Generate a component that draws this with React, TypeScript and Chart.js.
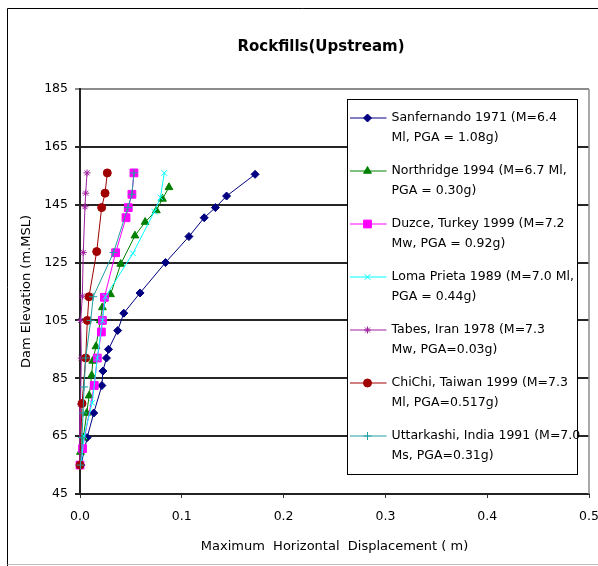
import React, { useEffect, useRef } from 'react';
import { Chart, registerables } from 'chart.js';
import { drawPoint } from 'chart.js/helpers';

Chart.register(...registerables);

const FONT = "'DejaVu Sans', sans-serif";

const chartTitle = 'Rockfills(Upstream)';
const xAxisTitle = 'Maximum  Horizontal  Displacement ( m)';
const yAxisTitle = 'Dam Elevation (m.MSL)';
const xTicks = [0, 0.1, 0.2, 0.3, 0.4, 0.5];
const yTicks = [45, 65, 85, 105, 125, 145, 165, 185];

const legendLines = [
  ['Sanfernando 1971 (M=6.4', 'Ml, PGA = 1.08g)'],
  ['Northridge 1994 (M=6.7 Ml,', 'PGA = 0.30g)'],
  ['Duzce, Turkey 1999 (M=7.2', 'Mw, PGA = 0.92g)'],
  ['Loma Prieta 1989 (M=7.0 Ml,', 'PGA = 0.44g)'],
  ['Tabes, Iran 1978 (M=7.3', 'Mw, PGA=0.03g)'],
  ['ChiChi, Taiwan 1999 (M=7.3', 'Ml, PGA=0.517g)'],
  ['Uttarkashi, India 1991 (M=7.0', 'Ms, PGA=0.31g)'],
];

// Sanfernando 1971
const sanfernandoElev = [155.5, 148, 144, 140.5, 134, 125, 114.5, 107.5, 101.5, 95, 92, 87.5, 82.5, 73, 64.5, 55];
const sanfernandoDisp = [0.172, 0.144, 0.133, 0.122, 0.107, 0.084, 0.059, 0.043, 0.037, 0.028, 0.026, 0.0225, 0.0215, 0.0135, 0.007, 0.001];
// Northridge 1994
const northridgeElev = [151, 147, 143, 139, 134.3, 124.5, 114, 109.5, 105, 96, 91, 86, 79, 73, 64.5, 59.5];
const northridgeDisp = [0.0874, 0.081, 0.075, 0.064, 0.054, 0.04, 0.03, 0.022, 0.02, 0.0157, 0.0125, 0.0115, 0.009, 0.0066, 0.0033, 0.0005];
// Duzce, Turkey 1999
const duzceElev = [156, 148.6, 144, 140.5, 128.4, 113, 105, 101, 92, 82.5, 60.7, 55];
const duzceDisp = [0.053, 0.051, 0.0474, 0.0452, 0.035, 0.024, 0.022, 0.021, 0.017, 0.014, 0.0025, 0.0];
// Loma Prieta 1989
const lomaElev = [156, 147.5, 142.6, 128.2, 113.2, 105, 92, 76.5, 65, 55];
const lomaDisp = [0.0828, 0.079, 0.073, 0.052, 0.025, 0.022, 0.017, 0.012, 0.004, 0.001];
// Tabes, Iran 1978
const tabesElev = [156, 149, 144.3, 128.5, 113.4, 105, 92, 76, 55];
const tabesDisp = [0.0069, 0.0056, 0.0049, 0.0032, 0.0023, 0.0007, 0.0013, 0.0005, 0.0];
// ChiChi, Taiwan 1999
const chichiElev = [156, 149, 144, 128.8, 113.2, 105, 92, 76.3, 55];
const chichiDisp = [0.0268, 0.0246, 0.0213, 0.0164, 0.0088, 0.0072, 0.0056, 0.002, 0.0];
// Uttarkashi, India 1991
const uttarkashiElev = [156, 148.6, 144, 128.5, 113.2, 105, 92, 82, 73, 64.5, 55];
const uttarkashiDisp = [0.053, 0.051, 0.047, 0.033, 0.013, 0.0105, 0.0056, 0.004, 0.003, 0.002, 0.0005];

const seriesElev = [sanfernandoElev, northridgeElev, duzceElev, lomaElev, tabesElev, chichiElev, uttarkashiElev];
const seriesDisp = [sanfernandoDisp, northridgeDisp, duzceDisp, lomaDisp, tabesDisp, chichiDisp, uttarkashiDisp];
const seriesColors = ['#000080', '#008000', '#FF00FF', '#00FFFF', '#A0209F', '#A00000', '#20A0A0'];
const seriesMarkers = ['rectRot', 'triangle', 'rect', 'crossRot', 'star', 'circle', 'cross'];
const seriesRadius = [4, 4.5, 5.5, 4, 3.5, 4, 4];

const outerFramePlugin = {
  id: 'outerFrame',
  beforeDraw(chart: any) {
    const { ctx, width, height } = chart;
    ctx.save();
    ctx.fillStyle = '#fff';
    ctx.fillRect(0, 0, width, height);
    ctx.restore();
  },
  beforeDatasetsDraw(chart: any) {
    const { ctx, chartArea } = chart;
    ctx.save();
    ctx.strokeStyle = '#8c8c8c';
    ctx.lineWidth = 1.5;
    ctx.beginPath();
    ctx.moveTo(chartArea.right, chartArea.top);
    ctx.lineTo(chartArea.right, chartArea.bottom);
    ctx.stroke();
    ctx.restore();
  },
  afterDraw(chart: any) {
    const { ctx, width, height, chartArea } = chart;
    ctx.save();
    // chart title
    ctx.fillStyle = '#000';
    ctx.font = `bold 15px ${FONT}`;
    ctx.textAlign = 'center';
    ctx.textBaseline = 'middle';
    ctx.fillText(chartTitle, chartArea.left + 241, 47);
    // outer frame
    ctx.strokeStyle = '#000';
    ctx.lineWidth = 1;
    ctx.beginPath();
    ctx.moveTo(7.5, height);
    ctx.lineTo(7.5, 8.5);
    ctx.lineTo(width, 8.5);
    ctx.stroke();
    ctx.strokeStyle = '#c0c0c0';
    ctx.beginPath();
    ctx.moveTo(7.5, height - 1.5);
    ctx.lineTo(width, height - 1.5);
    ctx.stroke();
    ctx.restore();
  },
};

const boxLegendPlugin = {
  id: 'boxLegend',
  afterDraw(chart: any) {
    const { ctx, chartArea } = chart;
    const left = chartArea.left + 267.5;
    const top = chartArea.top + 10.5;
    const w = 230;
    const h = 375;
    ctx.save();
    ctx.fillStyle = '#fff';
    ctx.fillRect(left, top, w, h);
    ctx.strokeStyle = '#000';
    ctx.lineWidth = 1;
    ctx.strokeRect(left, top, w, h);
    chart.data.datasets.forEach((ds: any, i: number) => {
      const y = top + 18.5 + i * 53;
      ctx.strokeStyle = ds.borderColor;
      ctx.fillStyle = ds.backgroundColor;
      ctx.lineWidth = 1;
      ctx.beginPath();
      ctx.moveTo(left + 2.5, y);
      ctx.lineTo(left + 39, y);
      ctx.stroke();
      drawPoint(ctx, { pointStyle: ds.pointStyle, radius: ds.pointRadius, rotation: 0, borderWidth: 1 } as any, left + 20, y);
      ctx.fillStyle = '#000';
      ctx.font = `12.5px ${FONT}`;
      ctx.textBaseline = 'middle';
      ctx.textAlign = 'left';
      legendLines[i].forEach((t, j) => ctx.fillText(t, left + 44, y + j * 19.4));
    });
    ctx.restore();
  },
};

export default function App() {
  const canvasRef = useRef<HTMLCanvasElement | null>(null);

  useEffect(() => {
    const canvas = canvasRef.current;
    if (!canvas) return;
    const n = seriesElev.length;
    const datasets = seriesElev.map((elev, i) => ({
      label: legendLines[i].join(' '),
      data: elev.map((e, k) => ({ x: seriesDisp[i][k], y: e })),
      showLine: true,
      borderColor: seriesColors[i],
      backgroundColor: seriesColors[i],
      borderWidth: 1,
      pointStyle: seriesMarkers[i],
      pointRadius: seriesRadius[i],
      pointBorderWidth: 1,
      pointBorderColor: seriesColors[i],
      pointBackgroundColor: seriesColors[i],
      order: n - i,
      clip: false,
    }));

    const tickFont = { family: FONT, size: 12.5 };
    const chart = new Chart(canvas, {
      type: 'scatter',
      data: { datasets } as any,
      plugins: [outerFramePlugin, boxLegendPlugin],
      options: {
        animation: false,
        responsive: false,
        maintainAspectRatio: false,
        devicePixelRatio: 1,
        layout: { padding: { left: 0, right: 9, top: 89, bottom: 0 } },
        plugins: {
          legend: { display: false },
          tooltip: { enabled: false },
          title: { display: false },
        },
        scales: {
          x: {
            type: 'linear',
            min: 0,
            max: 0.5,
            afterBuildTicks: (s: any) => {
              s.ticks = xTicks.map((v) => ({ value: v }));
            },
            afterFit: (s: any) => {
              s.height = 72;
              s.paddingLeft = 0;
              s.paddingRight = 0;
            },
            grid: { drawOnChartArea: false, drawTicks: true, tickLength: 4, color: '#333', lineWidth: 1 },
            border: { display: true, color: '#222', width: 2 },
            ticks: {
              font: tickFont,
              color: '#000',
              padding: 11,
              maxRotation: 0,
              autoSkip: false,
              callback: (v: any) => Number(v).toFixed(1),
            },
            title: {
              display: true,
              text: xAxisTitle,
              color: '#000',
              font: { family: FONT, size: 13 },
              padding: { top: 0, bottom: 12 },
            },
          },
          y: {
            type: 'linear',
            min: 45,
            max: 185,
            afterBuildTicks: (s: any) => {
              s.ticks = yTicks.map((v) => ({ value: v }));
            },
            afterFit: (s: any) => {
              s.width = 80;
              s.paddingTop = 0;
              s.paddingBottom = 0;
            },
            grid: {
              drawTicks: true,
              tickLength: 5,
              lineWidth: 2,
              color: (c: any) => (c.tick && c.tick.value === 185 ? '#8c8c8c' : '#262626'),
            },
            border: { display: true, color: '#222', width: 2 },
            ticks: {
              font: tickFont,
              color: '#000',
              padding: 7,
              autoSkip: false,
              callback: (v: any) => String(v),
            },
            title: {
              display: true,
              text: yAxisTitle,
              color: '#000',
              font: { family: FONT, size: 13 },
              padding: { top: 19, bottom: 0 },
            },
          },
        },
      } as any,
    });
    return () => chart.destroy();
  }, []);

  return (
    <div style={{ position: 'fixed', left: 0, top: 0, width: 598, height: 566 }}>
      <canvas ref={canvasRef} width={598} height={566} style={{ width: 598, height: 566, display: 'block' }} />
    </div>
  );
}
